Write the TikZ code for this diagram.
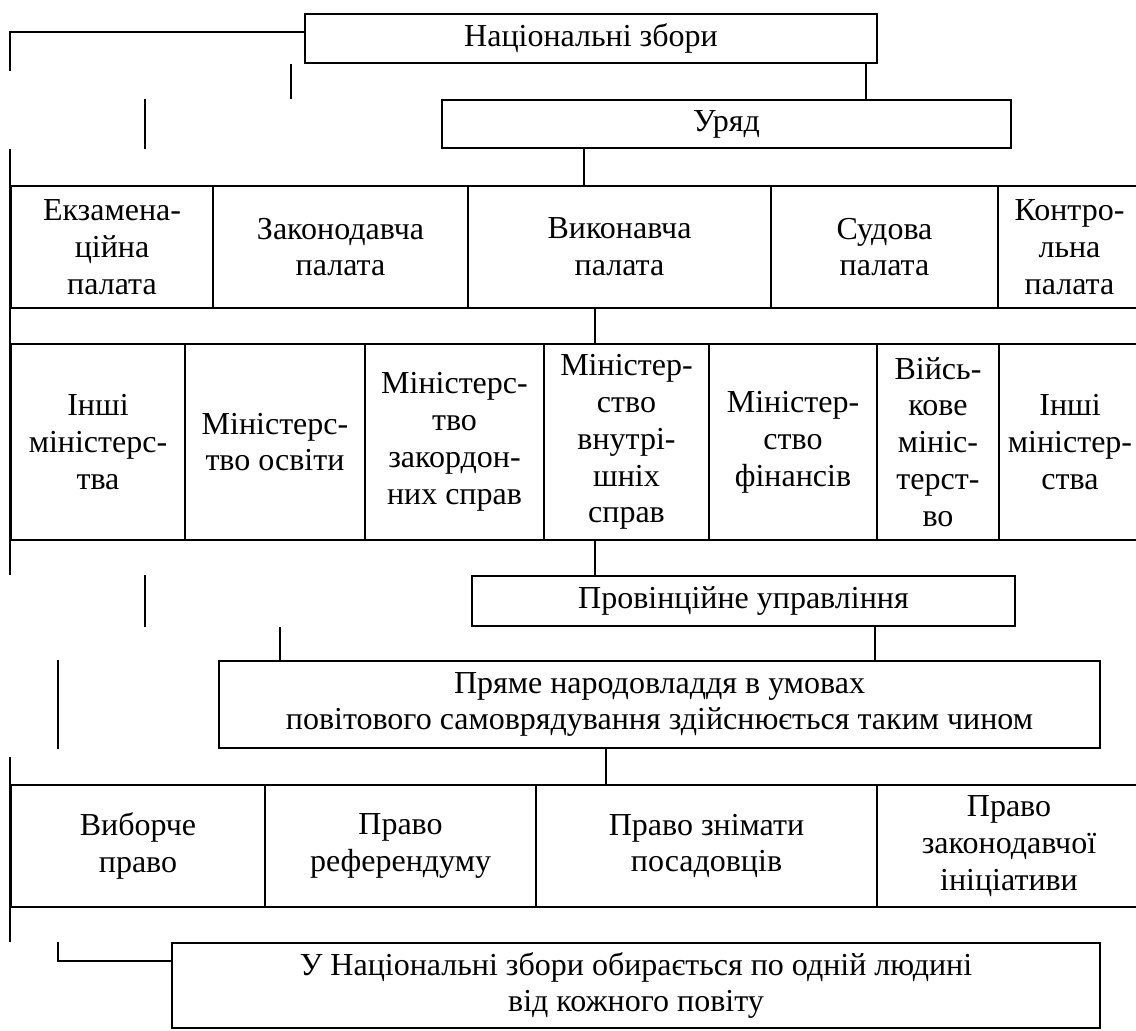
\documentclass[tikz,border=0pt]{standalone}
\usepackage{fontspec}
\setmainfont{Liberation Serif}

\begin{document}
\begin{tikzpicture}[x=0.45pt, y=-0.45pt,
        cellbox/.style={draw, line width=0.9pt, inner sep=0pt, align=center,
          anchor=north west, font=\fontsize{14.4}{16.6}\selectfont},
        size/.style 2 args={minimum width=#1*0.45pt, minimum height=#2*0.45pt},
        link/.style={line width=0.9pt},
      ]
      \useasboundingbox (0,0) rectangle (1136,1030);
      \clip (0,0) rectangle (1136,1030);

      % top boxes
      \node[cellbox, size={572}{49}] (nz) at (304,13) {Національні збори};
      \node[cellbox, size={569}{48}] (uryad) at (441,99) {Уряд};

      % chambers
      \node[cellbox, size={202}{122}] (ekz) at (10,185) {Екзамена-\\ційна\\палата};
      \node[cellbox, size={255}{122}] (zak) at (212,185) {Законодавча\\палата};
      \node[cellbox, size={303}{122}] (vyk) at (467,185) {Виконавча\\палата};
      \node[cellbox, size={227}{122}] (sud) at (770,185) {Судова\\палата};
      \node[cellbox, size={143}{122}] (kontr) at (997,185) {Контро-\\льна\\палата};

      % ministries
      \node[cellbox, size={174}{196}] (inshiA) at (10,343) {Інші\\міністерс-\\тва};
      \node[cellbox, size={180}{196}] (osv) at (184,343) {Міністерс-\\тво освіти};
      \node[cellbox, size={179}{196}] (zakord) at (364,343) {Міністерс-\\тво\\закордон-\\них справ};
      \node[cellbox, size={165}{196}] (vnut) at (543,343) {Міністер-\\ство\\внутрі-\\шніх\\справ};
      \node[cellbox, size={168}{196}] (fin) at (708,343) {Міністер-\\ство\\фінансів};
      \node[cellbox, size={122}{196}] (viysk) at (876,343) {Війсь-\\кове\\мініс-\\терст-\\во};
      \node[cellbox, size={142}{196}] (inshiB) at (998,343) {Інші\\міністер-\\ства};

      % local level
      \node[cellbox, size={543}{50}] (prov) at (471,575) {Провінційне управління};
      \node[cellbox, size={881}{87}] (pryame) at (218,660)
        {Пряме народовладдя в умовах\\повітового самоврядування здійснюється таким чином};

      % rights
      \node[cellbox, size={254}{122}] (vyb) at (10,784) {Виборче\\право};
      \node[cellbox, size={271}{122}] (ref) at (264,784) {Право\\референдуму};
      \node[cellbox, size={341}{122}] (zni) at (535,784) {Право знімати\\посадовців};
      \node[cellbox, size={264}{122}] (ini) at (876,784) {Право\\законодавчої\\ініціативи};

      \node[cellbox, size={928}{85}] (povit) at (171,942)
        {У Національні збори обирається по одній людині\\від кожного повіту};

      % connectors
      \draw[link] (nz.south -| 866,0) -- (uryad.north -| 866,0);
      \draw[link] (uryad.south -| 584,0) -- (vyk.north -| 584,0);
      \draw[link] (vyk.south -| 595,0) -- (vnut.north -| 595,0);
      \draw[link] (vnut.south -| 595,0) -- (prov.north -| 595,0);
      \draw[link] (prov.south -| 875,0) -- (pryame.north -| 875,0);
      \draw[link] (pryame.south -| 606,0) -- (zni.north -| 606,0);

      % left side lines
      \draw[link] (nz.west |- 0,32) -- (10,32) -- (10,71);
      \draw[link] (nz.south -| 291,0) -- (uryad.north -| 291,0);
      \draw[link] (uryad.north -| 145,0) -- (uryad.south -| 145,0);
      \draw[link] (uryad.south -| 10,0) -- (prov.north -| 10,0);
      \draw[link] (prov.north -| 145,0) -- (prov.south -| 145,0);
      \draw[link] (prov.south -| 280,0) -- (pryame.north -| 280,0);
      \draw[link] (pryame.north -| 58,0) -- (pryame.south -| 58,0);
      \draw[link] (10,757) -- (povit.north -| 10,0);
      \draw[link] (povit.west |- 0,961) -- (58,961) -- (povit.north -| 58,0);
    \end{tikzpicture}
\end{document}
